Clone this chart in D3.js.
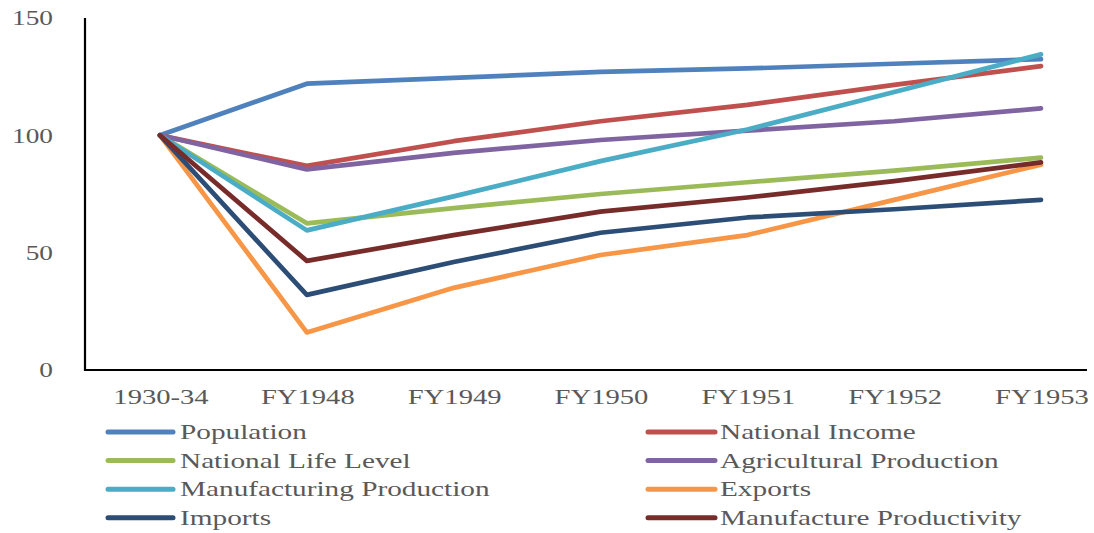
<!DOCTYPE html>
<html>
<head>
<meta charset="utf-8">
<script src="https://cdn.jsdelivr.net/npm/d3@7"></script>
<style>
    body { margin: 0; background: #fff; }
    text { font-family: "Liberation Serif", "Times New Roman", serif; fill: #595959; }
</style>
</head>
<body>
<div id="chart"></div>
<script>
var categories = ["1930-34", "FY1948", "FY1949", "FY1950", "FY1951", "FY1952", "FY1953"];
var yTicks = [0, 50, 100, 150];

var population = [100, 122, 124.5, 127, 128.5, 130.5, 132.5];
var nationalIncome = [100, 87, 97.5, 106, 113, 121.5, 129.5];
var lifeLevel = [100, 62.5, 69, 75, 80, 85, 90.5];
var agricultural = [100, 85.5, 92.5, 98, 102, 106, 111.5];
var manufacturing = [100, 59.5, 74, 89, 102.5, 118.5, 134.5];
var exportsData = [100, 16, 35, 49, 57.5, 72.5, 87.5];
var importsData = [100, 32, 46, 58.5, 65, 68.5, 72.5];
var productivity = [100, 46.5, 57.5, 67.5, 73.5, 80.5, 88.5];

var series = [
    { name: "Population", values: population, color: "#4F81BD" },
    { name: "National Income", values: nationalIncome, color: "#C0504D" },
    { name: "National Life Level", values: lifeLevel, color: "#9BBB59" },
    { name: "Agricultural Production", values: agricultural, color: "#8064A2" },
    { name: "Manufacturing Production", values: manufacturing, color: "#4BACC6" },
    { name: "Exports", values: exportsData, color: "#F79646" },
    { name: "Imports", values: importsData, color: "#2C4D75" },
    { name: "Manufacture Productivity", values: productivity, color: "#772C2A" }
];

var width = 1094;
var height = 533;
var stretch = 1.3; // the source text is drawn wide

var svg = d3.select("#chart").append("svg")
    .attr("width", width)
    .attr("height", height);

var x = d3.scalePoint().domain(categories).range([160, 1041]);
var y = d3.scaleLinear().domain([0, 150]).range([370, 18]);

function widen(sel, k) {
    sel.each(function() {
        var len = this.getComputedTextLength();
        d3.select(this).attr("textLength", len * k).attr("lengthAdjust", "spacingAndGlyphs");
    });
}

// y labels
svg.append("g").selectAll("text").data(yTicks).enter()
    .append("text")
        .attr("x", 53)
        .attr("y", function(d) { return y(d); })
        .attr("dy", "0.35em")
        .attr("text-anchor", "end")
        .style("font-size", "21px")
        .text(function(d) { return d; })
        .call(widen, stretch);

// x labels
svg.append("g").selectAll("text").data(categories).enter()
    .append("text")
        .attr("x", function(d) { return x(d) + 1; })
        .attr("y", 404)
        .attr("text-anchor", "middle")
        .style("font-size", "22px")
        .text(function(d) { return d; })
        .call(widen, stretch);

// axes
svg.append("line")
    .attr("x1", 85).attr("x2", 85)
    .attr("y1", y(150)).attr("y2", y(0) + 1)
    .attr("stroke", "#000").attr("stroke-width", 2.2);
svg.append("line")
    .attr("x1", 84).attr("x2", 1087)
    .attr("y1", y(0)).attr("y2", y(0))
    .attr("stroke", "#000").attr("stroke-width", 2.2);

var line = d3.line()
    .x(function(d, i) { return x(categories[i]); })
    .y(function(d) { return y(d); });

svg.append("g").selectAll("path").data(series).enter()
    .append("path")
        .attr("d", function(d) { return line(d.values); })
        .attr("fill", "none")
        .attr("stroke", function(d) { return d.color; })
        .attr("stroke-width", 4.7)
        .attr("stroke-linejoin", "round")
        .attr("stroke-linecap", "round");

// legend, two columns
var legend = svg.append("g").selectAll("g").data(series).enter()
    .append("g")
        .attr("transform", function(d, i) {
            var col = i % 2;
            var row = Math.floor(i / 2);
            return "translate(" + (col == 0 ? 108 : 648) + "," + (432 + row * 28.6) + ")";
        });

legend.append("line")
    .attr("x1", 0).attr("x2", function(d, i) { return i % 2 == 0 ? 65 : 67; })
    .attr("y1", 0).attr("y2", 0)
    .attr("stroke", function(d) { return d.color; })
    .attr("stroke-width", 5)
    .attr("stroke-linecap", "round");

legend.append("text")
    .attr("x", 72)
    .attr("y", 0)
    .attr("dy", "0.32em")
    .style("font-size", "22px")
    .text(function(d) { return d.name; })
    .call(widen, 1.33);
</script>
</body>
</html>
